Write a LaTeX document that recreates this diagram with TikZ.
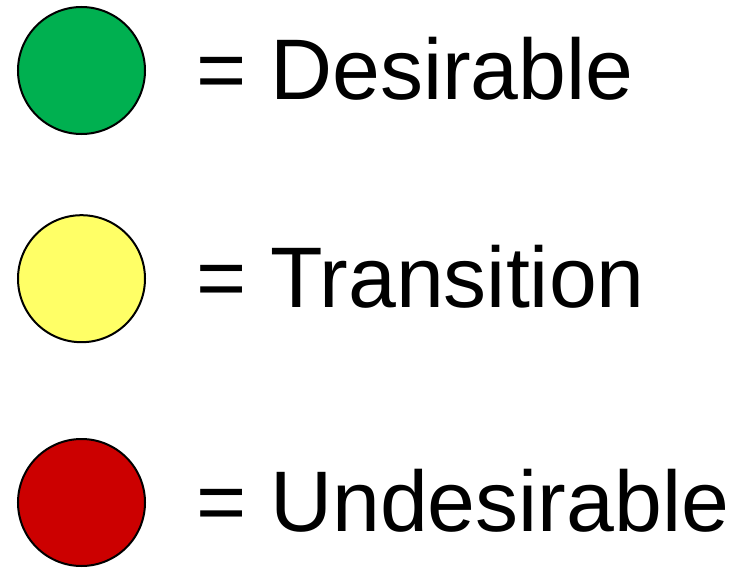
\documentclass[tikz,border=0pt]{standalone}
\usepackage{fontspec}
\setmainfont{Liberation Sans}
\definecolor{gOK}{HTML}{00B050}
\definecolor{yTR}{HTML}{FFFF66}
\definecolor{rBAD}{HTML}{CC0000}
\begin{document}
\begin{tikzpicture}[x=1pt,y=-1pt,
  dot/.style={circle,draw=black,line width=2pt,minimum size=127pt,inner sep=0pt},
  lbl/.style={anchor=base west,inner sep=0pt,font=\fontsize{86}{92}\selectfont}]
\useasboundingbox (0,0) rectangle (734,570);
\node[dot,fill=gOK] (g) at (81.5,70.5) {};
\node[dot,fill=yTR] (y) at (81.5,278.7) {};
\node[dot,fill=rBAD] (r) at (81.5,502.5) {};
\node[lbl] (gt) at (196,99.3) {= Desirable};
\node[lbl] (yt) at (196,307.3) {= Transition};
\node[lbl] (rt) at (196,531.7) {= Undesirable};
\end{tikzpicture}
\end{document}
